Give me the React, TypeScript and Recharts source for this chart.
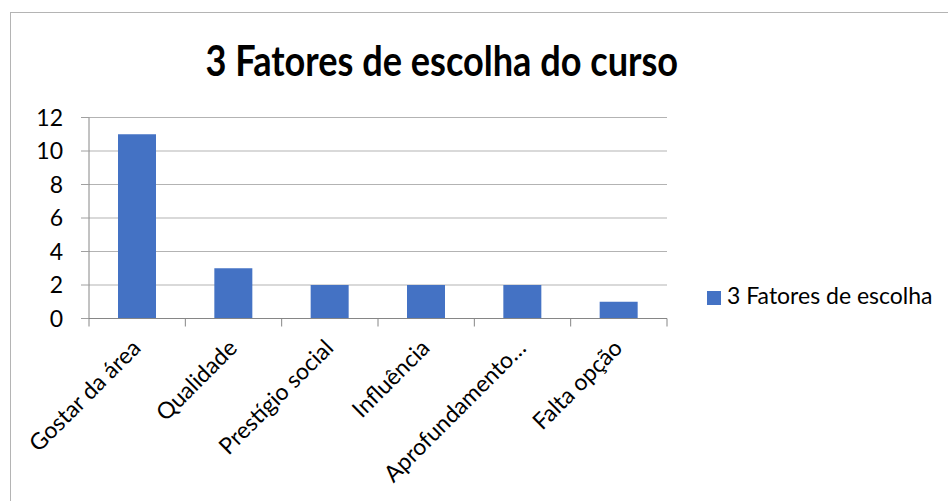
import React from 'react';
import { BarChart, Bar, XAxis, YAxis, CartesianGrid } from 'recharts';

const categories = ['Gostar da área', 'Qualidade', 'Prestígio social', 'Influência', 'Aprofundamento…', 'Falta opção'];
const values = [11, 3, 2, 2, 2, 1];
const yTicks = [0, 2, 4, 6, 8, 10, 12];
const seriesName = '3 Fatores de escolha';
const chartTitle = '3 Fatores de escolha do curso';

const data = categories.map((c, i) => ({ name: c, value: values[i] }));

const FONT = 'Lato, "Open Sans", sans-serif';
const BAR = '#4472C4';
const AXIS = '#868686';

function XTick(props: any) {
  const { x, y, payload, index } = props;
  const off = payload.offset || 0;
  const tx = x + 5;
  const ty = y + 31;
  return (
    <g>
      <line x1={x - off} y1={y} x2={x - off} y2={y + 8} stroke={AXIS} strokeWidth={1} />
      {index === categories.length - 1 && (
        <line x1={x + off} y1={y} x2={x + off} y2={y + 8} stroke={AXIS} strokeWidth={1} />
      )}
      <text
        x={tx}
        y={ty}
        transform={`rotate(-45, ${tx}, ${ty})`}
        textAnchor="end"
        fontSize={23}
        fontFamily={FONT}
        fill="#000"
      >
        {payload.value}
      </text>
    </g>
  );
}

export default function App() {
  return (
    <div style={{ position: 'absolute', left: 0, top: 0, width: 948, height: 501, overflow: 'hidden', background: '#fff', fontFamily: FONT }}>
      <div style={{ position: 'absolute', left: 10, top: 12, width: 1000, height: 600, border: '1px solid #b4b4b4', boxSizing: 'border-box' }} />
      <div style={{ position: 'absolute', left: 0, width: 883, top: 39, textAlign: 'center', whiteSpace: 'nowrap' }}>
        <span style={{ display: 'inline-block', fontSize: 42, lineHeight: '42px', fontWeight: 700, color: '#000', transform: 'scaleX(0.86)', transformOrigin: 'center' }}>
          {chartTitle}
        </span>
      </div>
      <div style={{ position: 'absolute', left: 707, top: 291, width: 14, height: 14, background: BAR }} />
      <div style={{ position: 'absolute', left: 727, top: 284, fontSize: 23, lineHeight: '23px', color: '#000', whiteSpace: 'nowrap' }}>
        {seriesName}
      </div>
      <div style={{ position: 'absolute', left: 0, top: 0 }}>
        <BarChart width={948} height={501} data={data} margin={{ top: 117.5, right: 281, left: 0, bottom: 0 }}>
          <CartesianGrid vertical={false} stroke="#b3b3b3" strokeWidth={1} />
          <XAxis
            dataKey="name"
            interval={0}
            height={182.5}
            tickSize={0}
            tickMargin={0}
            tickLine={false}
            axisLine={{ stroke: AXIS }}
            tick={<XTick />}
          />
          <YAxis
            width={89}
            domain={[0, 12]}
            ticks={yTicks}
            interval={0}
            tickSize={8}
            tickMargin={18}
            axisLine={{ stroke: AXIS }}
            tickLine={{ stroke: '#a0a0a0' }}
            tick={{ fill: '#000', fontSize: 23, fontFamily: FONT }}
          />
          <Bar dataKey="value" name={seriesName} fill={BAR} barSize={38} isAnimationActive={false} />
        </BarChart>
      </div>
    </div>
  );
}
